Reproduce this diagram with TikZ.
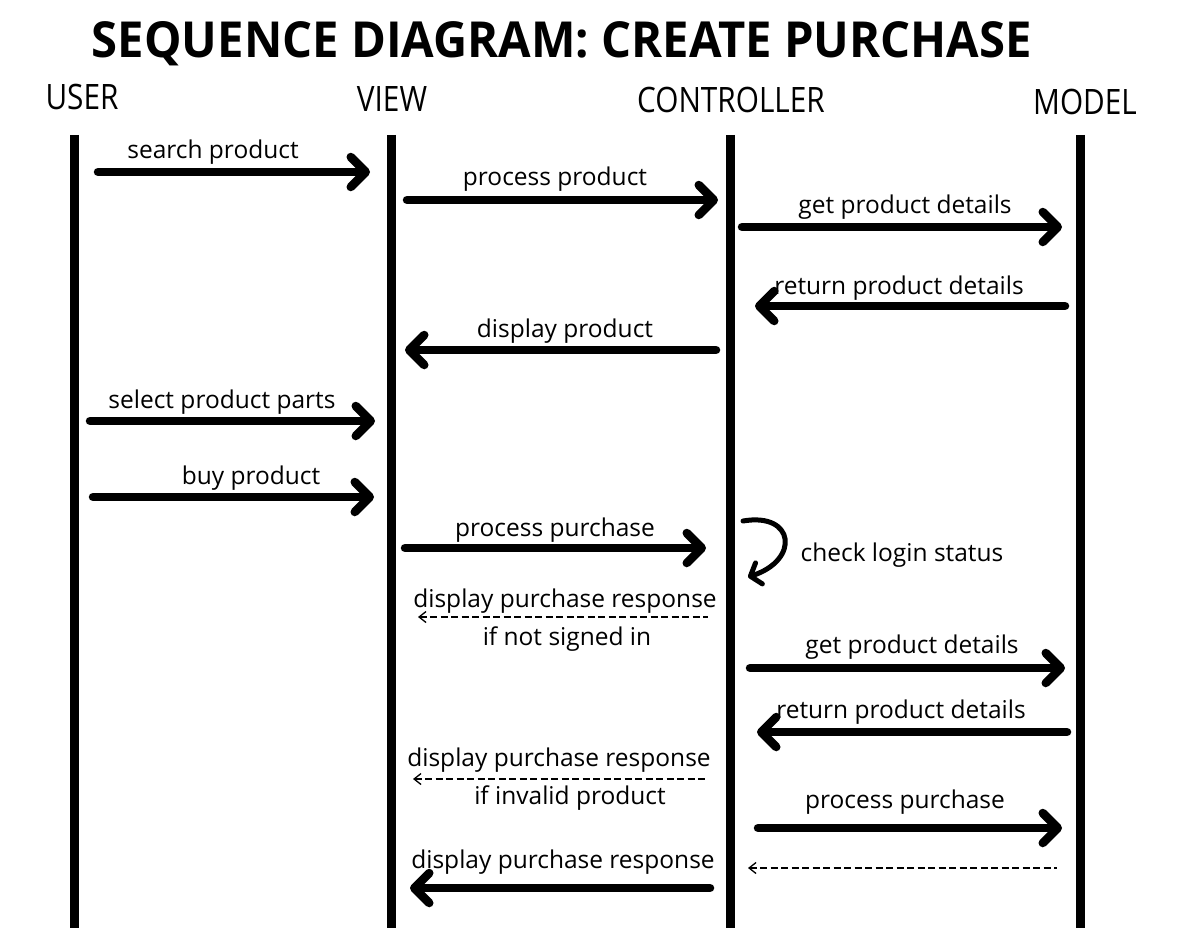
\documentclass[tikz,border=0pt]{standalone}
\usepackage{fontspec}
\setmainfont{Open Sans}
\usetikzlibrary{arrows.meta}

\begin{document}
\begin{tikzpicture}[x=1pt,y=-1pt,
  lifeline/.style={line width=9pt},
  msg/.style={line width=8.5pt, line cap=round,
    -{Straight Barb[length=15pt,width=30pt,round]}},
  reply/.style={line width=1.4pt, dash pattern=on 7pt off 3.5pt,
    {Straight Barb[length=7pt,width=11pt,line width=1.3pt]}-},
  selfcall/.style={line width=5pt, line cap=round,
    -{Straight Barb[length=9pt,width=22pt,round]}},
  lbl/.style={anchor=base, inner sep=0pt, font=\fontsize{24.5}{28}\selectfont},
  head/.style={anchor=base, inner sep=0pt, font=\fontsize{35}{40}\selectfont},
]
\useasboundingbox (0,0) rectangle (1180,947);

% title and lifeline headers
\node (title) [anchor=base, inner sep=0pt] at (562,58)
  {\resizebox{940pt}{36pt}{\bfseries SEQUENCE DIAGRAM: CREATE PURCHASE}};
\node (huser) [head] at (82,110) {\scalebox{0.85}[1]{USER}};
\node (hview) [head] at (392,112) {\scalebox{0.85}[1]{VIEW}};
\node (hctrl) [head] at (731,113) {\scalebox{0.85}[1]{CONTROLLER}};
\node (hmodel) [head] at (1085,115) {\scalebox{0.85}[1]{MODEL}};

% lifelines
\coordinate (U) at (74,135);   \coordinate (Ub) at (74,928);
\coordinate (V) at (391,135);  \coordinate (Vb) at (391,928);
\coordinate (C) at (730,135);  \coordinate (Cb) at (730,928);
\coordinate (M) at (1080,135); \coordinate (Mb) at (1080,928);
\foreach \a/\b in {U/Ub, V/Vb, C/Cb, M/Mb}
  \draw[lifeline] (\a) -- (\b);

% messages
\draw[msg, shorten <=24pt, shorten >=21pt] (U |- 0,172) -- (V |- 0,172);
\node (l1) [lbl] at (213,158) {search product};

\draw[msg, shorten <=16pt, shorten >=12pt] (V |- 0,200) -- (C |- 0,200);
\node (l2) [lbl] at (555,185) {process product};

\draw[msg, shorten <=12pt, shorten >=18pt] (C |- 0,227) -- (M |- 0,227);
\node (l3) [lbl] at (905,213) {get product details};

\draw[msg, shorten <=15pt, shorten >=25pt] (M |- 0,306) -- (C |- 0,306);
\node (l4) [lbl] at (899,294) {return product details};

\draw[msg, shorten <=14pt, shorten >=14pt] (C |- 0,350) -- (V |- 0,350);
\node (l5) [lbl] at (565,337) {display product};

\draw[msg, shorten <=16pt, shorten >=16pt] (U |- 0,421) -- (V |- 0,421);
\node (l6) [lbl] at (222,408) {select product parts};

\draw[msg, shorten <=19pt, shorten >=17pt] (U |- 0,497) -- (V |- 0,497);
\node (l7) [lbl] at (251,484) {buy product};

\draw[msg, shorten <=14pt, shorten >=24pt] (V |- 0,548) -- (C |- 0,548);
\node (l8) [lbl] at (555,536) {process purchase};

% self call on the controller
\coordinate (s0) at ([xshift=13pt]C |- 0,521);
\coordinate (s1) at ([xshift=18pt]C |- 0,577);
\draw[selfcall] (s0) .. controls (795,512) and (800,560) .. (s1);
\node (l9) [lbl] at (902,561) {check login status};

% reply if not signed in
\draw[reply, shorten <=27pt, shorten >=22pt] (V |- 0,617) -- (C |- 0,617);
\node (l10) [lbl] at (565,607) {display purchase response};
\node (l10b) [lbl] at (567,645) {if not signed in};

\draw[msg, shorten <=20pt, shorten >=15pt] (C |- 0,668) -- (M |- 0,668);
\node (l11) [lbl] at (912,653) {get product details};

\draw[msg, shorten <=13pt, shorten >=27pt] (M |- 0,732) -- (C |- 0,732);
\node (l12) [lbl] at (901,718) {return product details};

% reply if invalid product
\draw[reply, shorten <=22pt, shorten >=25pt] (V |- 0,779) -- (C |- 0,779);
\node (l13) [lbl] at (559,766) {display purchase response};
\node (l13b) [lbl] at (570,804) {if invalid product};

\draw[msg, shorten <=28pt, shorten >=18pt] (C |- 0,828) -- (M |- 0,828);
\node (l14) [lbl] at (905,808) {process purchase};

% model returns to controller
\draw[reply, shorten <=18pt, shorten >=23pt] (C |- 0,868) -- (M |- 0,868);

\draw[msg, shorten <=20pt, shorten >=19pt] (C |- 0,888) -- (V |- 0,888);
\node (l16) [lbl] at (563,868) {display purchase response};
\end{tikzpicture}
\end{document}
